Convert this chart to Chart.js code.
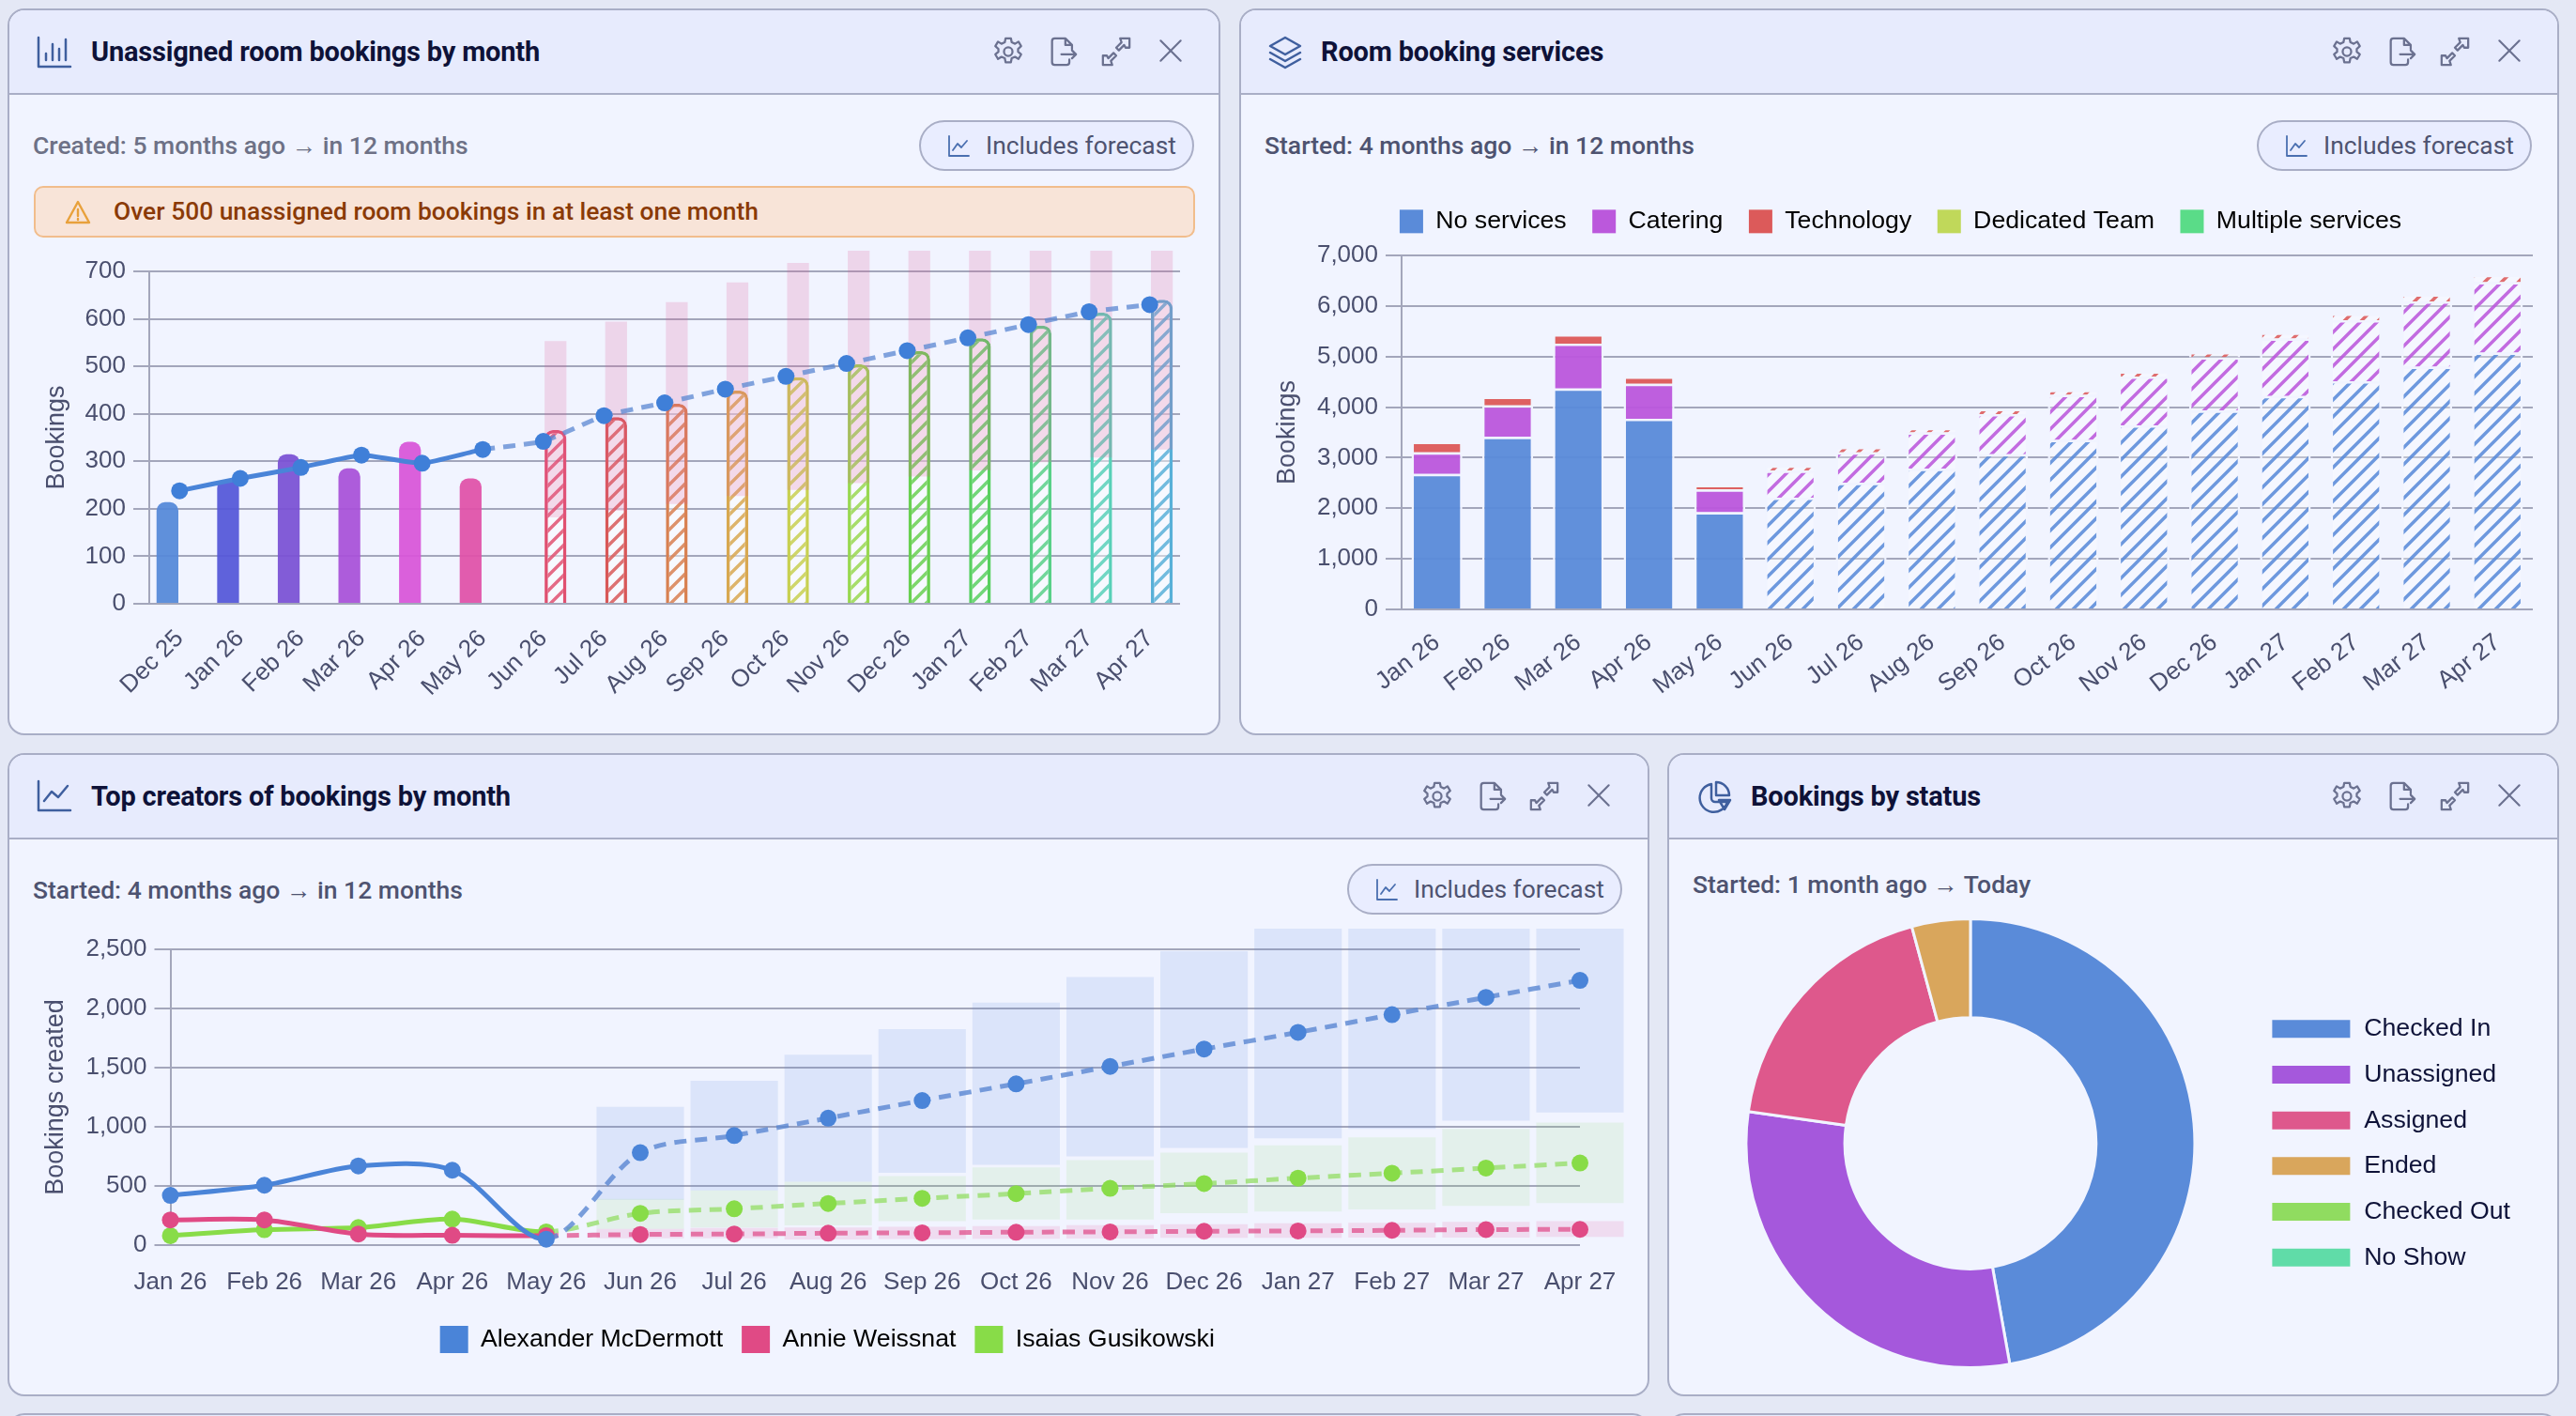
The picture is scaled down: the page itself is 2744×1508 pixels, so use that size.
<!DOCTYPE html>
<html>
<head>
<meta charset="utf-8">
<script src="https://cdn.jsdelivr.net/npm/chart.js"></script>
<style>
  html, body { margin: 0; padding: 0; background: #e4e8f5; }
  body { position: relative; width: 2744px; height: 1508px; overflow: hidden; font-family: Roboto, "Liberation Sans", sans-serif; }
  .panel { position: absolute; box-sizing: border-box; background: #f1f4ff; border: 2px solid #a9aec6; border-radius: 18px; overflow: hidden; }
  .head { position: absolute; left: 0; right: 0; top: 0; height: 88px; background: #e7ebfd; border-bottom: 2px solid #a9aec6; }
  .title { position: absolute; top: 24px; font-size: 29px; font-weight: 700; color: #0e1238; line-height: 40px; white-space: nowrap; letter-spacing: -0.2px; }
  .sub { position: absolute; font-size: 26.5px; font-weight: 500; color: #4e5370; line-height: 34px; white-space: nowrap; }
  .pill { position: absolute; box-sizing: border-box; width: 293px; height: 54px; border: 2px solid #a9aec6; border-radius: 27px; background: #e9edff; color: #4e5370; font-size: 26.4px; line-height: 50px; padding-left: 69px; white-space: nowrap; }
  .pill svg { position: absolute; left: 26px; top: 12px; }
  .alert { position: absolute; box-sizing: border-box; left: 26px; top: 187px; width: 1237px; height: 55px; background: #f8e4d8; border: 2px solid #f1bd8c; border-radius: 10px; color: #8a3a06; font-size: 26.4px; font-weight: 500; line-height: 50px; padding-left: 83px; }
  .alert svg { position: absolute; left: 30px; top: 12px; }
  .ic { position: absolute; top: 27px; }
  canvas { position: absolute; }
  svg { fill: none; stroke-linecap: round; stroke-linejoin: round; }
</style>
</head>
<body>
<svg width="0" height="0" style="position:absolute">
  <symbol id="gear" viewBox="0 0 24 24"><circle cx="12" cy="12" r="3.2"/><path d="M10 2h4l.6 3 2.5 1.1 2.6-1.6 2 3.4-2.3 2v2.2l2.3 2-2 3.4-2.6-1.6-2.5 1.1-.6 3h-4l-.6-3-2.5-1.1-2.6 1.6-2-3.4 2.3-2v-2.2l-2.3-2 2-3.4 2.6 1.6L9.4 5z"/></symbol>
  <symbol id="export" viewBox="0 0 24 24"><path d="M14 2H6a2 2 0 0 0-2 2v16a2 2 0 0 0 2 2h9a2 2 0 0 0 2-2v-2M14 2l5 5v3M14 2v5h5M11 14h11M19 11l3 3-3 3"/></symbol>
  <symbol id="expand" viewBox="0 0 24 24"><path d="M15 2h7v7h-3l-1-2-4 4-2-2 4-4zM9 22H2v-7h3l1 2 4-4 2 2-4 4z"/></symbol>
  <symbol id="close" viewBox="0 0 24 24"><path d="M4 4l16 16M20 4L4 20"/></symbol>
</svg>

<div class="panel" style="left:8px;top:9px;width:1292px;height:774px">
  <div class="head"></div>
  <svg style="position:absolute;left:29px;top:27px" width="38" height="36" viewBox="0 0 38 36" stroke="#3f5f9e" stroke-width="2.5"><path d="M2 2v31h34M10 26v-7M17 26V9M24 26V14M31 26V4"/></svg>
  <div class="title" style="left:87px">Unassigned room bookings by month</div>
  <svg class="ic" style="left:1047px" width="34" height="34" stroke="#6b7190" stroke-width="1.6"><use href="#gear"/></svg>
  <svg class="ic" style="left:1105px" width="34" height="34" stroke="#6b7190" stroke-width="1.6"><use href="#export"/></svg>
  <svg class="ic" style="left:1162px" width="34" height="34" stroke="#6b7190" stroke-width="1.6"><use href="#expand"/></svg>
  <svg class="ic" style="left:1221px" width="32" height="32" stroke="#6b7190" stroke-width="1.6"><use href="#close"/></svg>
  <div class="sub" style="left:25px;top:127px;color:#6d7186">Created: 5 months ago → in 12 months</div>
  <div class="pill" style="left:969px;top:117px"><svg width="28" height="28" stroke="#4a6fb0" stroke-width="1.8" viewBox="0 0 28 28"><path d="M4 3v21h21M8 18l5-7 4 4 6-7"/></svg>Includes forecast</div>
  <div class="alert"><svg width="30" height="28" stroke="#e8a13c" stroke-width="2.4" viewBox="0 0 30 28"><path d="M15 3L27 25H3zM15 11v7M15 21v1"/></svg>Over 500 unassigned room bookings in at least one month</div>
</div>

<div class="panel" style="left:1320px;top:9px;width:1406px;height:774px">
  <div class="head"></div>
  <svg style="position:absolute;left:28px;top:26px" width="38" height="38" viewBox="0 0 38 38" stroke="#3f5f9e" stroke-width="2.5"><path d="M19 3L35 12 19 21 3 12zM3 19l16 9 16-9M3 26l16 9 16-9"/></svg>
  <div class="title" style="left:85px">Room booking services</div>
  <svg class="ic" style="left:1161px" width="34" height="34" stroke="#6b7190" stroke-width="1.6"><use href="#gear"/></svg>
  <svg class="ic" style="left:1219px" width="34" height="34" stroke="#6b7190" stroke-width="1.6"><use href="#export"/></svg>
  <svg class="ic" style="left:1276px" width="34" height="34" stroke="#6b7190" stroke-width="1.6"><use href="#expand"/></svg>
  <svg class="ic" style="left:1335px" width="32" height="32" stroke="#6b7190" stroke-width="1.6"><use href="#close"/></svg>
  <div class="sub" style="left:25px;top:127px">Started: 4 months ago → in 12 months</div>
  <div class="pill" style="left:1082px;top:117px"><svg width="28" height="28" stroke="#4a6fb0" stroke-width="1.8" viewBox="0 0 28 28"><path d="M4 3v21h21M8 18l5-7 4 4 6-7"/></svg>Includes forecast</div>
</div>

<div class="panel" style="left:8px;top:802px;width:1749px;height:685px">
  <div class="head"></div>
  <svg style="position:absolute;left:29px;top:26px" width="38" height="36" viewBox="0 0 38 36" stroke="#3f5f9e" stroke-width="2.5"><path d="M2 2v31h34M8 23l8-10 7 6 10-12"/></svg>
  <div class="title" style="left:87px">Top creators of bookings by month</div>
  <svg class="ic" style="left:1504px" width="34" height="34" stroke="#6b7190" stroke-width="1.6"><use href="#gear"/></svg>
  <svg class="ic" style="left:1562px" width="34" height="34" stroke="#6b7190" stroke-width="1.6"><use href="#export"/></svg>
  <svg class="ic" style="left:1618px" width="34" height="34" stroke="#6b7190" stroke-width="1.6"><use href="#expand"/></svg>
  <svg class="ic" style="left:1677px" width="32" height="32" stroke="#6b7190" stroke-width="1.6"><use href="#close"/></svg>
  <div class="sub" style="left:25px;top:127px">Started: 4 months ago → in 12 months</div>
  <div class="pill" style="left:1425px;top:116px"><svg width="28" height="28" stroke="#4a6fb0" stroke-width="1.8" viewBox="0 0 28 28"><path d="M4 3v21h21M8 18l5-7 4 4 6-7"/></svg>Includes forecast</div>
</div>

<div class="panel" style="left:1776px;top:802px;width:950px;height:685px">
  <div class="head"></div>
  <svg style="position:absolute;left:29px;top:26px" width="38" height="38" viewBox="0 0 38 38" stroke="#3f5f9e" stroke-width="2.5"><path d="M16 5a15 15 0 1 0 17 19H20a4 4 0 0 1-4-4zM21 3a14 14 0 0 1 14 14H21zM24 22h12l-6 10z"/></svg>
  <div class="title" style="left:87px">Bookings by status</div>
  <svg class="ic" style="left:705px" width="34" height="34" stroke="#6b7190" stroke-width="1.6"><use href="#gear"/></svg>
  <svg class="ic" style="left:763px" width="34" height="34" stroke="#6b7190" stroke-width="1.6"><use href="#export"/></svg>
  <svg class="ic" style="left:820px" width="34" height="34" stroke="#6b7190" stroke-width="1.6"><use href="#expand"/></svg>
  <svg class="ic" style="left:879px" width="32" height="32" stroke="#6b7190" stroke-width="1.6"><use href="#close"/></svg>
  <div class="sub" style="left:25px;top:121px">Started: 1 month ago → Today</div>
</div>

<div class="panel" style="left:8px;top:1505px;width:1749px;height:40px;background:#e7ebfd"></div>
<div class="panel" style="left:1776px;top:1505px;width:950px;height:40px;background:#e7ebfd"></div>

<canvas id="unassigned" width="1255" height="510" style="left:40px;top:261px"></canvas>
<canvas id="services" width="1386" height="582" style="left:1330px;top:195px"></canvas>
<canvas id="creators" width="1747" height="512" style="left:8px;top:960px"></canvas>
<canvas id="status" width="883" height="481" style="left:1801px;top:977px"></canvas>

<script>
// ---- data ----
const months17 = ["Dec 25", "Jan 26", "Feb 26", "Mar 26", "Apr 26", "May 26", "Jun 26", "Jul 26", "Aug 26", "Sep 26", "Oct 26", "Nov 26", "Dec 26", "Jan 27", "Feb 27", "Mar 27", "Apr 27"];
const months16 = months17.slice(1);

const unassignedActual = [214, 261, 315, 285, 341, 264, null, null, null, null, null, null, null, null, null, null, null];
const unassignedForecast = [null, null, null, null, null, null, 366, 393, 421, 449, 477, 504, 532, 559, 586, 613, 640];
const unassignedTrend = [238, 264, 287, 313, 296, 325, 342, 396, 423, 452, 479, 506, 533, 560, 588, 615, 630];
const unassignedLow = [null, null, null, null, null, null, 182, 196, 210, 227, 240, 254, 268, 281, 298, 308, 325];
const unassignedHigh = [null, null, null, null, null, null, 553, 594, 635, 677, 718, 760, 800, 840, 880, 920, 960];

const noServices = [2680, 3410, 4370, 3770, 1920, 2210, 2500, 2780, 3070, 3350, 3640, 3930, 4220, 4510, 4800, 5080];
const catering = [426, 626, 886, 691, 451, 532, 606, 718, 793, 891, 966, 1054, 1135, 1210, 1291, 1389];
const technology = [207, 170, 184, 145, 82, 104, 104, 90, 103, 97, 103, 103, 117, 131, 138, 145];
const dedicatedTeam = [0, 0, 0, 0, 0, 0, 0, 0, 0, 0, 0, 0, 0, 0, 0, 0];
const multipleServices = [0, 0, 0, 0, 0, 0, 0, 0, 0, 0, 0, 0, 0, 0, 0, 0];

const alexander = [420, 506, 669, 633, 50, 781, 926, 1073, 1222, 1363, 1510, 1657, 1798, 1948, 2094, 2238];
const annie = [213, 213, 94, 83, 80, 90, 94, 101, 104, 109, 112, 117, 120, 125, 131, 133];
const isaias = [80, 130, 148, 220, 112, 268, 307, 352, 395, 435, 480, 520, 566, 608, 651, 694];

const alexanderLow = [null, null, null, null, null, 383, 463, 536, 611, 678, 750, 822, 902, 982, 1051, 1121];
const alexanderHigh = [null, null, null, null, null, 1169, 1389, 1609, 1825, 2049, 2265, 2484, 2700, 2917, 3135, 3350];
const annieLow = [null, null, null, null, null, 58, 58, 48, 51, 53, 56, 61, 61, 64, 64, 69];
const annieHigh = [null, null, null, null, null, 137, 145, 149, 155, 160, 168, 176, 184, 189, 197, 203];
const isaiasLow = [null, null, null, null, null, 137, 148, 166, 203, 216, 216, 269, 283, 301, 331, 355];
const isaiasHigh = [null, null, null, null, null, 391, 463, 535, 584, 656, 718, 782, 843, 910, 982, 1035];

const statusLabels = ["Checked In", "Unassigned", "Assigned", "Ended", "Checked Out", "No Show"];
const statusCounts = [471, 300, 185, 42, 0, 0];

// ---- colours ----
const monthColors = ["#5588d8", "#5557d8", "#7a50d4", "#a850d8", "#d855d8", "#e050a8", "#e05070", "#d85858", "#d88050", "#d8a850", "#c8d050", "#98d850", "#68d050", "#58d060", "#58d088", "#58d0b8", "#58b0d8"];
const statusColors = ["#5a8bd9", "#a558dc", "#de588c", "#d9a65c", "#90dc60", "#60dca8"];
const blue = "#5a8bd9", purple = "#bb58dc", red = "#dc5a5a", lime = "#c0d85a", mint = "#5adc88";
const gridColor = "#a3a6bb", tickColor = "#4a4f6e", legendColor = "#0e1238", panelBg = "#f1f4ff";
const legendFont = { size: 26.7 };

Chart.defaults.font.family = "'Liberation Sans', Arial, sans-serif";
Chart.defaults.font.size = 26;
Chart.defaults.color = tickColor;
Chart.defaults.animation = false;

function hatch(color, tile, lineWidth, bg) {
  let c = document.createElement("canvas");
  c.width = tile;
  c.height = tile;
  let x = c.getContext("2d");
  x.fillStyle = bg;
  x.fillRect(0, 0, tile, tile);
  x.strokeStyle = color;
  x.lineWidth = lineWidth;
  x.beginPath();
  x.moveTo(-2, tile + 2); x.lineTo(tile + 2, -2);
  x.moveTo(-2, 2); x.lineTo(2, -2);
  x.moveTo(tile - 2, tile + 2); x.lineTo(tile + 2, tile - 2);
  x.stroke();
  return x.createPattern(c, "repeat");
}

function pairs(low, high) {
  return low.map((v, i) => (v === null ? null : [v, high[i]]));
}

function yAxis(max, step, title, width) {
  return {
    min: 0, max: max, stacked: false,
    afterFit: (s) => { s.width = width; },
    ticks: { stepSize: step, padding: 8, color: tickColor },
    grid: { color: gridColor, lineWidth: 2, tickLength: 17 },
    border: { display: true, color: gridColor, width: 2 },
    title: { display: true, text: title, color: tickColor, font: { size: 27 } },
  };
}

function xAxis(height, rotation, padding) {
  return {
    afterFit: (s) => { s.height = height; },
    grid: { display: false, drawTicks: false },
    border: { display: false },
    ticks: { autoSkip: false, minRotation: rotation, maxRotation: rotation, padding: padding, color: tickColor },
  };
}

// dashed and lighter from the index where the forecast starts
function trendSegment(from, light) {
  return {
    borderDash: (ctx) => (ctx.p0DataIndex >= from ? [13, 9] : undefined),
    borderColor: (ctx) => (ctx.p0DataIndex >= from ? light : undefined),
  };
}

// fixes the legend box height and nudges it sideways
const legendBox = {
  id: "legendBox",
  beforeInit(chart, args, opts) {
    let fit = chart.legend.fit;
    chart.legend.fit = function () {
      fit.call(this);
      if (opts.height) this.height = opts.height;
    };
  },
  afterLayout(chart, args, opts) {
    chart.legend.left += opts.x || 0;
    chart.legend.right += opts.x || 0;
  },
};

new Chart(document.getElementById("unassigned"), {
  type: "bar",
  data: {
    labels: months17,
    datasets: [
      {
        type: "line", label: "Trend", data: unassignedTrend, order: 0, clip: false,
        borderColor: "#4a84d8", borderWidth: 5, tension: 0.15,
        pointRadius: 9, pointBackgroundColor: "#3f7fd8", pointBorderWidth: 0,
        segment: trendSegment(5, "rgba(90,135,210,.75)"),
      },
      {
        label: "Actual", data: unassignedActual, stack: "actual", order: 1,
        backgroundColor: monthColors.map((c) => c + "ee"),
        borderRadius: { topLeft: 9, topRight: 9 },
      },
      {
        label: "Range", data: pairs(unassignedLow, unassignedHigh), stack: "forecast", order: 2,
        backgroundColor: "rgba(224,90,150,.2)",
        clip: { left: false, top: 22, right: false, bottom: 0 },
      },
      {
        label: "Forecast", data: unassignedForecast, stack: "forecast", order: 3,
        backgroundColor: monthColors.map((c) => hatch(c + "d8", 16, 3.4, "rgba(255,255,255,.45)")),
        borderColor: monthColors, borderWidth: 3.5, borderSkipped: "bottom",
        borderRadius: { topLeft: 9, topRight: 9 },
      },
    ],
  },
  options: {
    responsive: false,
    layout: { padding: { top: 28, right: 38 } },
    plugins: { legend: { display: false }, tooltip: { enabled: false } },
    scales: { x: xAxis(128, 45, 22), y: yAxis(700, 100, "Bookings", 119) },
  },
});

const forecastFrom = 5;
function serviceFill(color) {
  return months16.map((m, i) => (i < forecastFrom ? color + "f4" : hatch(color + "e0", 18, 3.5, "rgba(255,255,255,.3)")));
}
function serviceSet(label, data, color) {
  return { label: label, data: data, backgroundColor: serviceFill(color), borderColor: panelBg, borderWidth: 2.5, solid: color };
}

new Chart(document.getElementById("services"), {
  type: "bar",
  plugins: [legendBox],
  data: {
    labels: months16,
    datasets: [
      serviceSet("No services", noServices, blue),
      serviceSet("Catering", catering, purple),
      serviceSet("Technology", technology, red),
      serviceSet("Dedicated Team", dedicatedTeam, lime),
      serviceSet("Multiple services", multipleServices, mint),
    ],
  },
  options: {
    responsive: false,
    layout: { padding: { left: 21, right: 18 } },
    plugins: {
      tooltip: { enabled: false },
      legendBox: { height: 77 },
      legend: {
        position: "top",
        labels: {
          boxWidth: 25, boxHeight: 25, padding: 27.5, color: legendColor, font: legendFont,
          generateLabels: (chart) => chart.data.datasets.map((d, i) => ({
            text: d.label, fillStyle: d.solid, strokeStyle: d.solid, lineWidth: 0, datasetIndex: i,
          })),
        },
      },
    },
    scales: {
      x: Object.assign(xAxis(128, 38, 20), { stacked: true }),
      y: Object.assign(yAxis(7000, 1000, "Bookings", 142), { stacked: true }),
    },
  },
});

function bandSet(label, low, high, color) {
  return {
    label: label, data: pairs(low, high), backgroundColor: color, order: 1, grouped: false,
    barPercentage: 1, categoryPercentage: 0.93,
    clip: { left: false, top: 22, right: false, bottom: 0 },
  };
}
function creatorLine(label, data, color, light) {
  return {
    type: "line", label: label, data: data, order: 0, clip: false,
    borderColor: color, backgroundColor: color, borderWidth: 5, tension: 0.3,
    pointRadius: 9, pointBackgroundColor: color, pointBorderWidth: 0,
    segment: trendSegment(4, light),
  };
}

new Chart(document.getElementById("creators"), {
  type: "bar",
  plugins: [legendBox],
  data: {
    labels: months16,
    datasets: [
      creatorLine("Alexander McDermott", alexander, "#4a84d8", "rgba(90,135,210,.8)"),
      creatorLine("Annie Weissnat", annie, "#e04a85", "rgba(224,80,140,.75)"),
      creatorLine("Isaias Gusikowski", isaias, "#88dc48", "rgba(140,220,90,.7)"),
      bandSet("band a", alexanderLow, alexanderHigh, "rgba(85,135,220,.14)"),
      bandSet("band b", annieLow, annieHigh, "rgba(224,80,150,.14)"),
      bandSet("band c", isaiasLow, isaiasHigh, "rgba(140,220,100,.13)"),
    ],
  },
  options: {
    responsive: false,
    layout: { padding: { top: 51, left: 31.5, right: 72 } },
    plugins: {
      tooltip: { enabled: false },
      legendBox: { height: 80, x: 20 },
      legend: {
        position: "bottom",
        labels: {
          boxWidth: 30, boxHeight: 29, padding: 20, color: legendColor, font: legendFont,
          filter: (item) => !item.text.startsWith("band"),
          generateLabels: (chart) => chart.data.datasets.map((d, i) => ({
            text: d.label, fillStyle: d.backgroundColor, strokeStyle: d.backgroundColor, lineWidth: 0, datasetIndex: i,
          })),
        },
      },
    },
    scales: {
      x: Object.assign(xAxis(66, 0, 24), { offset: false }),
      y: yAxis(2500, 500, "Bookings created", 142),
    },
  },
});

new Chart(document.getElementById("status"), {
  type: "doughnut",
  data: {
    labels: statusLabels,
    datasets: [{ data: statusCounts, backgroundColor: statusColors, borderColor: panelBg, borderWidth: 3 }],
  },
  options: {
    responsive: false,
    cutout: "56%",
    plugins: {
      tooltip: { enabled: false },
      legend: {
        position: "right",
        labels: { boxWidth: 86, boxHeight: 22, padding: 22, color: legendColor, font: legendFont },
      },
    },
  },
});
</script>
</body>
</html>
